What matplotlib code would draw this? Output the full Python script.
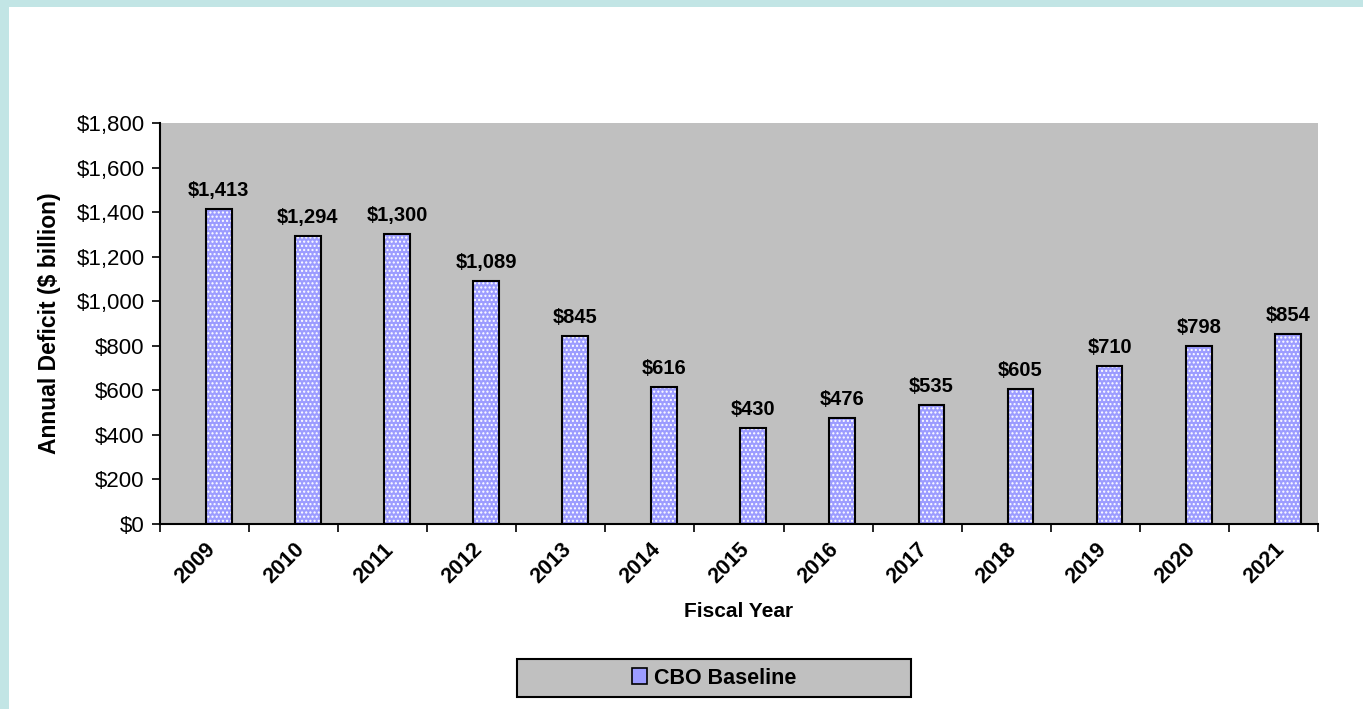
"""Recreate CBO baseline annual deficit bar chart."""

import matplotlib
matplotlib.use("Agg")
import matplotlib.pyplot as plt
from matplotlib.patches import Rectangle, Patch

plt.rcParams["font.family"] = ["Liberation Sans", "DejaVu Sans"]

years = ["2009", "2010", "2011", "2012", "2013", "2014", "2015",
         "2016", "2017", "2018", "2019", "2020", "2021"]
deficits = [1413, 1294, 1300, 1089, 845, 616, 430, 476, 535, 605, 710, 798, 854]
y_ticks = [0, 200, 400, 600, 800, 1000, 1200, 1400, 1600, 1800]
series_name = "CBO Baseline"

fig = plt.figure(figsize=(13.63, 7.09), dpi=100)
# cyan frame + white card
fig.patches.append(Rectangle((0, 0), 1, 1, transform=fig.transFigure,
                             facecolor="#C2E5E5", edgecolor="none", zorder=-10))
fig.patches.append(Rectangle((9 / 1363, 0), 1, 702 / 709, transform=fig.transFigure,
                             facecolor="white", edgecolor="none", zorder=-9))

ax = fig.add_axes([0.1174, 0.261, 0.8496, 0.5655])
ax.set_facecolor("#C0C0C0")

n = len(years)
centers = [i + 0.16 for i in range(n)]
ax.bar(centers, deficits, width=0.29, color="#9C9CFF", edgecolor="white",
       hatch="....", linewidth=0, zorder=2)
ax.bar(centers, deficits, width=0.29, fill=False, edgecolor="black",
       linewidth=1.5, zorder=3)

for x, v in zip(centers, deficits):
    ax.text(x, v + 40, f"${v:,}", ha="center", va="bottom",
            fontsize=14.5, fontweight="bold")

ax.set_xlim(-0.5, n - 0.5)
ax.set_ylim(0, 1800)
ax.set_yticks(y_ticks)
ax.set_yticklabels([f"${t:,}" for t in y_ticks], fontsize=16)

ax.set_xticks([i - 0.5 for i in range(n + 1)])
ax.set_xticklabels([])
ax.set_xticks(range(n), minor=True)
ax.set_xticklabels(years, minor=True, rotation=45, ha="right",
                   rotation_mode="anchor", fontsize=15.5, fontweight="bold")
ax.tick_params(axis="x", which="minor", length=0, pad=11)
ax.tick_params(axis="x", which="major", length=6, width=1.2)
ax.tick_params(axis="y", length=6, width=1.2, pad=5)

for side in ["top", "right"]:
    ax.spines[side].set_visible(False)
for side in ["left", "bottom"]:
    ax.spines[side].set_linewidth(1.5)

ax.set_xlabel("Fiscal Year", fontsize=15, fontweight="bold", labelpad=10)
ax.set_ylabel("Annual Deficit ($ billion)", fontsize=16.5, fontweight="bold",
              labelpad=11)

# legend box
fig.patches.append(Rectangle((517 / 1363, 12 / 709), 394 / 1363, 38 / 709,
                             transform=fig.transFigure, facecolor="#C0C0C0",
                             edgecolor="black", linewidth=1.5, zorder=1))
handle = Patch(facecolor="#9C9CFF", edgecolor="black", linewidth=1.2)
fig.legend([handle], [series_name], loc="center",
           bbox_to_anchor=(714 / 1363, 31 / 709), frameon=False,
           prop={"size": 15.5, "weight": "bold"},
           handlelength=0.7, handleheight=0.7, handletextpad=0.3,
           borderaxespad=0, borderpad=0)

fig.savefig("out.png", dpi=100)
